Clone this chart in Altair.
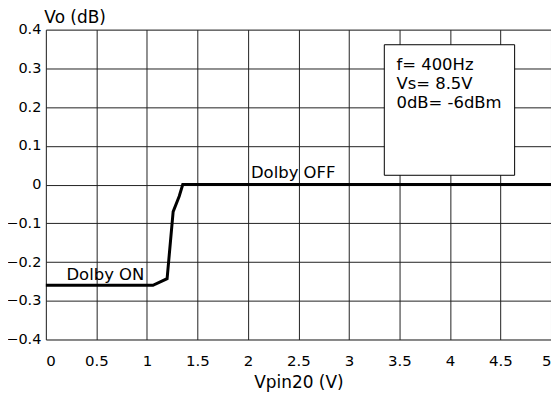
import altair as alt
import pandas as pd

# curve data
curve_x = [0.0, 1.06, 1.2, 1.26, 1.32, 1.355, 5.0]
curve_y = [-0.26, -0.26, -0.243, -0.07, -0.03, 0.0, 0.0]

x_ticks = [0, 0.5, 1, 1.5, 2, 2.5, 3, 3.5, 4, 4.5, 5]
y_ticks = [-0.4, -0.3, -0.2, -0.1, 0, 0.1, 0.2, 0.3, 0.4]

labels_text = ["Dolby ON", "Dolby OFF"]
labels_x = [0.204, 2.03]
labels_y = [-0.2457, 0.0167]

box_x = [3.35]
box_x2 = [4.64]
box_y = [0.361]
box_y2 = [0.024]

info_text = ["f= 400Hz", "Vs= 8.5V", "0dB= -6dBm"]
info_x = [3.47, 3.47, 3.47]
info_y = [0.297, 0.248, 0.197]

FONT = "DejaVu Sans"

curve_df = pd.DataFrame({"x": curve_x, "y": curve_y})
lab_df = pd.DataFrame({"t": labels_text, "x": labels_x, "y": labels_y})
box_df = pd.DataFrame({"x": box_x, "x2": box_x2, "y": box_y, "y2": box_y2})
info_df = pd.DataFrame({"t": info_text, "x": info_x, "y": info_y})

xs = alt.Scale(domain=[0, 5], nice=False, zero=False)
ys = alt.Scale(domain=[-0.4, 0.4], nice=False, zero=False)

AX = alt.Axis(values=x_ticks, title="Vpin20 (V)", grid=True, gridColor="#222",
              gridWidth=1, gridOpacity=1, ticks=False, tickSize=0, labelPadding=14,
              labelFont=FONT, labelFontSize=15, labelColor="#000", labelOverlap=False,
              labelBaseline="top",
              titleFont=FONT, titleFontSize=17, titleFontWeight="normal",
              titleColor="#000", titlePadding=6, domain=False,
              labelExpr="datum.value == 0 ? '0' : format(datum.value, '~g')")

AY = alt.Axis(values=y_ticks, title="Vo (dB)", grid=True, gridColor="#222",
              gridWidth=1, gridOpacity=1, ticks=False, tickSize=0, labelPadding=5,
              labelFont=FONT, labelFontSize=14.5, labelColor="#000", labelOverlap=False,
              titleFont=FONT, titleFontSize=17, titleFontWeight="normal",
              titleColor="#000", titleAngle=0, titleAlign="left",
              titleBaseline="alphabetic", titleX=-2, titleY=-7, domain=False,
              labelExpr="datum.value == 0 ? '0' : replace(format(datum.value, '.1f'), '-', '\u2013')")

def X(field):
    return alt.X(field, scale=xs, axis=AX)

def Y(field):
    return alt.Y(field, scale=ys, axis=AY)

line = alt.Chart(curve_df).mark_line(color="#000", strokeWidth=3).encode(
    x=X("x:Q"), y=Y("y:Q"))

labels = alt.Chart(lab_df).mark_text(font=FONT, fontSize=16.5, align="left",
                                     baseline="alphabetic", color="#000").encode(
    x=X("x:Q"), y=Y("y:Q"), text="t:N")

box = alt.Chart(box_df).mark_rect(fill="white", stroke="#000", strokeWidth=1).encode(
    x=X("x:Q"), x2="x2:Q", y=Y("y:Q"), y2="y2:Q")

info = alt.Chart(info_df).mark_text(font=FONT, fontSize=16.5, align="left",
                                    baseline="alphabetic", color="#000").encode(
    x=X("x:Q"), y=Y("y:Q"), text="t:N")

chart = alt.layer(line, box, info, labels).properties(
    width=507, height=311,
    autosize=alt.AutoSizeParams(type="none"),
    padding={"left": 38, "top": 21, "right": 0, "bottom": 55},
).configure_view(stroke="#000", strokeWidth=1.5).configure(background="white")

chart.save("out.html", embed_options={"renderer": "svg", "actions": False})
